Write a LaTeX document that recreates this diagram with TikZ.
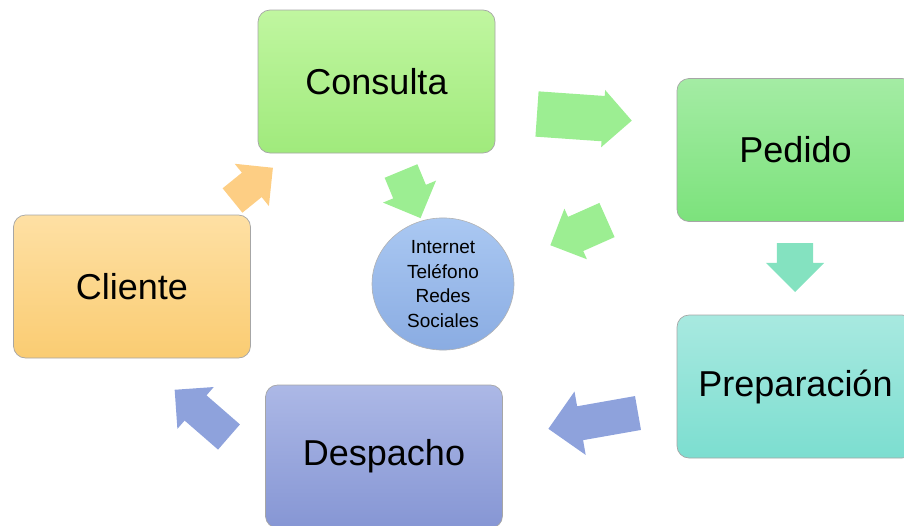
\documentclass[tikz,border=0pt]{standalone}
\usepackage{fontspec}
\setsansfont{Liberation Sans}
\usetikzlibrary{shapes.geometric, shapes.arrows, positioning}
\definecolor{consultaA}{RGB}{192,246,160}
\definecolor{consultaB}{RGB}{160,234,124}
\definecolor{pedidoA}{RGB}{164,236,164}
\definecolor{pedidoB}{RGB}{124,226,124}
\definecolor{prepA}{RGB}{168,233,224}
\definecolor{prepB}{RGB}{124,222,208}
\definecolor{despA}{RGB}{172,184,230}
\definecolor{despB}{RGB}{134,150,212}
\definecolor{clienteA}{RGB}{254,224,164}
\definecolor{clienteB}{RGB}{250,204,114}
\definecolor{canalA}{RGB}{170,200,242}
\definecolor{canalB}{RGB}{138,172,226}
\definecolor{flechaverde}{RGB}{156,238,146}
\definecolor{flechateal}{RGB}{132,226,192}
\definecolor{flechaazul}{RGB}{142,162,220}
\definecolor{flechanaranja}{RGB}{253,206,132}
\tikzset{
	etapa/.style={
		rectangle,
		rounded corners=12pt,
		minimum width=237pt,
		minimum height=143pt,
		text centered,
		draw=black!35,
		line width=0.7pt,
		font=\sffamily\fontsize{36}{40}\selectfont
	},
	canal/.style={
		ellipse,
		minimum width=142pt,
		minimum height=124pt,
		align=center,
		draw=black!30,
		line width=0.6pt,
		top color=canalA,
		bottom color=canalB,
		font=\sffamily\fontsize{19}{24.5}\selectfont
	},
	flecha/.style={
		single arrow,
		draw=none,
		anchor=tail,
		inner xsep=0pt,
		outer sep=0pt,
		single arrow head indent=0pt
	}
}

\begin{document}
\begin{tikzpicture}[x=1pt, y=-1pt]
	\useasboundingbox (0,0) rectangle (904,525);
	\node (consulta) [etapa, top color=consultaA, bottom color=consultaB] at (376.5,81.5) {Consulta};
	\node (pedido) [etapa, top color=pedidoA, bottom color=pedidoB] at (795.5,150) {Pedido};
	\node (preparacion) [etapa, top color=prepA, bottom color=prepB] at (795.5,386.5) {Preparación};
	\node (despacho) [etapa, top color=despA, bottom color=despB] at (384,456.5) {Despacho};
	\node (cliente) [etapa, top color=clienteA, bottom color=clienteB] at (132,286.5) {Cliente};
	\node (medios) [canal] at (443,284) {Internet\\Teléfono\\Redes\\Sociales};

	% Flechas (colocadas por la cola)
	\node (f-consulta-pedido) [flecha, fill=flechaverde, rotate=-4, minimum height=95pt, inner ysep=22.5pt, single arrow head extend=6pt] at (537,114) {};
	\node (f-consulta-medios) [flecha, fill=flechaverde, rotate=-67.5, minimum height=51pt, inner ysep=17.5pt, single arrow head extend=11pt] at (401,171) {};
	\node (f-pedido-medios) [flecha, fill=flechaverde, rotate=-156, minimum height=62pt, inner ysep=18.5pt, single arrow head extend=9pt] at (607,220) {};
	\node (f-pedido-prep) [flecha, fill=flechateal, rotate=-90, minimum height=49pt, inner ysep=18pt, single arrow head extend=11pt] at (795,243) {};
	\node (f-prep-despacho) [flecha, fill=flechaazul, rotate=-170, minimum height=91pt, inner ysep=17pt, single arrow head extend=15pt] at (638,413) {};
	\node (f-despacho-cliente) [flecha, fill=flechaazul, rotate=139, minimum height=72pt, inner ysep=16.5pt, single arrow head extend=11pt] at (229,437) {};
	\node (f-cliente-consulta) [flecha, fill=flechanaranja, rotate=39, minimum height=52pt, inner ysep=15.5pt, single arrow head extend=11.5pt] at (232.5,200.5) {};
\end{tikzpicture}
\end{document}
